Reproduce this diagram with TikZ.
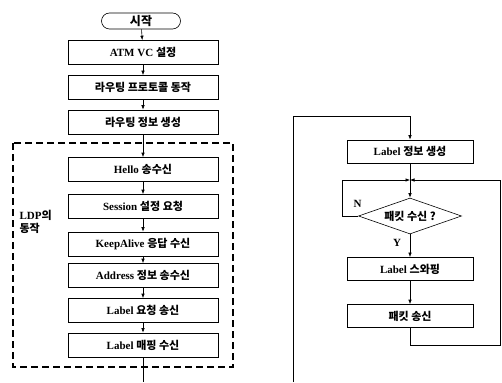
\documentclass[tikz,border=0pt]{standalone}
\usepackage{fontspec}
\setmainfont{Liberation Serif}
\newfontfamily\kr{Noto Sans CJK KR}
\newcommand{\ko}[1]{{\kr #1}}
\usetikzlibrary{arrows.meta,shapes.geometric}
\begin{document}
\begin{tikzpicture}[x=1pt,y=-1pt,
proc/.style ={rectangle, draw, semithick, minimum width=150pt,
  minimum height=24pt, inner sep=0pt, text centered,
  font=\bfseries\fontsize{11}{13}\selectfont
},
rproc/.style ={proc, minimum width=126pt, minimum height=23pt},
term/.style ={rectangle, draw, semithick, rounded corners=8pt,
  minimum width=79pt, minimum height=16pt, inner sep=0pt,
  font=\bfseries\fontsize{12}{14}\selectfont
},
decide/.style ={diamond, draw, semithick, aspect=2.6, inner sep=0pt,
  minimum width=103pt, minimum height=36pt,
  font=\bfseries\fontsize{11}{13}\selectfont
},
arr/.style ={semithick, -{Latex[length=4.5pt,width=3.5pt]}}]
\useasboundingbox (0,0) rectangle (502,382);
% left column
\node (start) at (141,21) [term] {\ko{시작}};
\node (atm) at (143,52.5) [proc] {ATM VC \ko{설정}};
\node (route) at (143,87.5) [proc] {\ko{라우팅 프로토콜 동작}};
\node (rinfo) at (143,122) [proc] {\ko{라우팅 정보 생성}};
\node (hello) at (143,169.5) [proc] {Hello \ko{송수신}};
\node (sess) at (143,206.5) [proc] {Session \ko{설정 요청}};
\node (keep) at (143,244) [proc] {KeepAlive \ko{응답 수신}};
\node (addr) at (143,275.5) [proc] {Address \ko{정보 송수신}};
\node (lreq) at (143,310.5) [proc] {Label \ko{요청 송신}};
\node (lmap) at (143,345) [proc] {Label \ko{매핑 수신}};
\coordinate (lend) at (143,382);
\draw[line width=1.3pt, dash pattern=on 7pt off 4pt] (13,143) rectangle (233,367);
\node (ldp) at (16,222) [anchor=west, align=left,
  font=\bfseries\fontsize{11}{13}\selectfont] {LDP\ko{의}\\\ko{동작}};
\draw[arr] (start) -- (atm);
\draw[arr] (atm) -- (route);
\draw[arr] (route) -- (rinfo);
\draw[arr] (rinfo) -- (hello);
\draw[arr] (hello) -- (sess);
\draw[arr] (sess) -- (keep);
\draw[arr] (keep) -- (addr);
\draw[arr] (addr) -- (lreq);
\draw[arr] (lreq) -- (lmap);
\draw[semithick] (lmap) -- (lend);
% right column
\coordinate (rbot) at (293,382);
\coordinate (rtop) at (293,116);
\node (linfo) at (410,151.5) [rproc] {Label \ko{정보 생성}};
\coordinate (join) at (410,180);
\node (recv) at (410,216) [decide] {\ko{패킷 수신 ?}};
\node (swap) at (410,269) [rproc, thick] {Label \ko{스와핑}};
\node (send) at (410,316) [rproc] {\ko{패킷 송신}};
\coordinate (rloop) at (500,345);
\draw[arr] (rbot) -- (rtop) -| (linfo.north);
\draw[semithick] (linfo) -- (join);
\draw[arr] (join) -- (recv.north);
\draw[arr] (recv.west) -- ++(-16,0) |- (join);
\node (n) at (350,204) [anchor=west, font=\bfseries\fontsize{11}{13}\selectfont] {N};
\draw[arr] (recv.south) -- (swap);
\node (y) at (397,243) [font=\bfseries\fontsize{11}{13}\selectfont] {Y};
\draw[arr] (swap) -- (send);
\draw[arr] (send.south) |- (rloop) |- (join);
\end{tikzpicture}
\end{document}
